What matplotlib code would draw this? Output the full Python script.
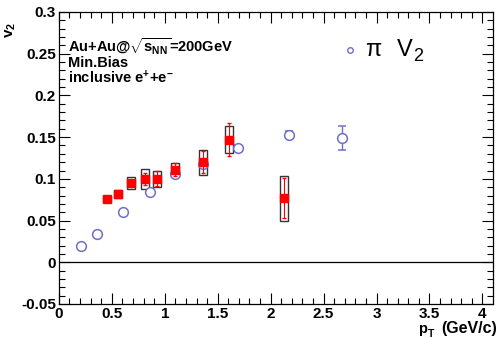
import numpy as np
import matplotlib.pyplot as plt

# inclusive electron v2 (Au+Au 200 GeV, min. bias)
e_pt = [0.45, 0.56, 0.68, 0.81, 0.93, 1.10, 1.36, 1.61, 2.13]
e_v2 = [0.076, 0.082, 0.095, 0.100, 0.100, 0.111, 0.120, 0.147, 0.077]
e_stat = [0.003, 0.003, 0.004, 0.007, 0.009, 0.008, 0.013, 0.020, 0.024]
e_sys = [0.004, 0.005, 0.007, 0.012, 0.010, 0.008, 0.015, 0.016, 0.027]

# pion v2
pi_pt = [0.21, 0.36, 0.61, 0.86, 1.10, 1.36, 1.69, 2.17, 2.67]
pi_v2 = [0.019, 0.034, 0.060, 0.084, 0.106, 0.118, 0.137, 0.153, 0.149]
pi_err = [0.001, 0.001, 0.001, 0.001, 0.002, 0.002, 0.003, 0.004, 0.014]

plt.rcParams['font.family'] = ['Liberation Sans', 'DejaVu Sans']
plt.rcParams['font.weight'] = 'bold'
plt.rcParams['mathtext.fontset'] = 'custom'
plt.rcParams['mathtext.rm'] = 'Liberation Sans:bold'
plt.rcParams['mathtext.bf'] = 'Liberation Sans:bold'
plt.rcParams['mathtext.it'] = 'Liberation Sans:bold'
plt.rcParams['mathtext.default'] = 'rm'

fig = plt.figure(figsize=(4.99, 3.38), dpi=100)
ax = fig.add_axes([0.118, 0.1006, 0.870, 0.8639])

ax.axhline(0, color='black', lw=0.9, zorder=1)

# systematic boxes
bw = 0.075
for x, y, s in zip(e_pt, e_v2, e_sys):
    ax.add_patch(plt.Rectangle((x - bw / 2, y - s), bw, 2 * s, fill=False,
                               edgecolor='#333333', lw=1.0, zorder=2))

ax.errorbar(pi_pt, pi_v2, yerr=pi_err, fmt='o', mfc='white', mec='#6f6fc8',
            ecolor='#6f6fc8', mew=1.1, ms=7, capsize=3, elinewidth=1.0, zorder=3)
ax.errorbar(e_pt, e_v2, yerr=e_stat, fmt='s', color='red', ms=6,
            capsize=1.5, elinewidth=0.8, zorder=4)

ax.set_xlim(0, 4.1)
ax.set_ylim(-0.05, 0.3)
ax.set_xticks(np.arange(0, 4.01, 0.5))
ax.set_xticklabels(['0', '0.5', '1', '1.5', '2', '2.5', '3', '3.5', '4'])
ax.set_xticks(np.arange(0, 4.1, 0.1), minor=True)
ax.set_yticks(np.arange(-0.05, 0.301, 0.05))
ax.set_yticklabels(['-0.05', '0', '0.05', '0.1', '0.15', '0.2', '0.25', '0.3'])
ax.set_yticks(np.arange(-0.05, 0.301, 0.01), minor=True)
ax.tick_params(which='both', direction='in', top=True, right=True,
               labelsize=11, pad=2)
ax.tick_params(which='major', length=8, width=0.8)
ax.tick_params(which='minor', length=4, width=0.8)
for sp in ax.spines.values():
    sp.set_linewidth(0.9)

ax.text(0.02, 0.880, r'Au+Au@$\sqrt{s_{NN}}$=200GeV', transform=ax.transAxes,
        fontsize=10.5, va='center')
ax.text(0.02, 0.825, 'Min.Bias', transform=ax.transAxes,
        fontsize=10.5, va='center')
ax.text(0.02, 0.774, r'inclusive e$^{+}$+e$^{-}$', transform=ax.transAxes,
        fontsize=10.5, va='center')

# legend
ax.plot([2.75], [0.2545], 'o', mfc='white', mec='#6f6fc8', ms=4, mew=1.0)
ax.text(2.89, 0.2545, 'π', fontsize=17, fontweight='normal', va='center')
ax.text(3.19, 0.2545, 'V', fontsize=17, fontweight='normal', va='center')
ax.text(3.35, 0.2465, '2', fontsize=13, fontweight='normal', va='center')

fig.text(0.022, 0.911, r'v$_2$', rotation=90, fontsize=11,
         ha='center', va='center')

# x axis title, built from pieces so the subscript sits low
fig.text(0.838, 0.0148, 'p', fontsize=10.5, va='baseline')
fig.text(0.858, 0.004, 'T', fontsize=7.5, va='baseline')
fig.text(0.995, 0.0148, '(GeV/c)', fontsize=11.5, ha='right', va='baseline')

fig.savefig('out.png', dpi=100)
